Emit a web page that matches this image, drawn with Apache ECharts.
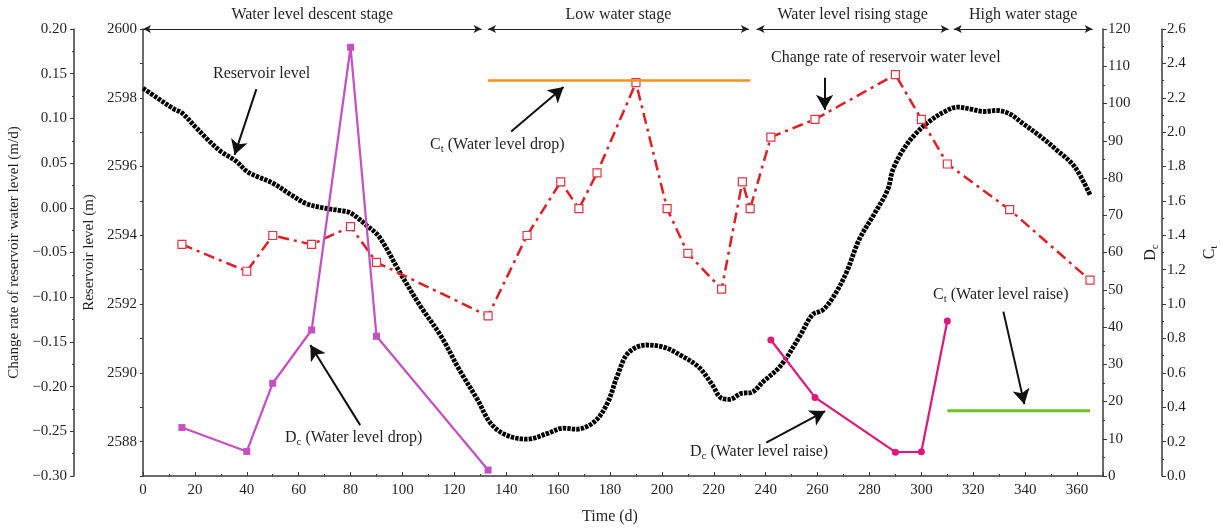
<!DOCTYPE html>
<html><head><meta charset="utf-8">
<script src="https://cdn.jsdelivr.net/npm/echarts@6/dist/echarts.min.js"></script>
<style>html,body{margin:0;padding:0;background:#fff;overflow:hidden}#c{width:1220px;height:529px}</style>
</head><body><div id="c"></div>
<script>
// Reservoir level (m)
const levelDays = [0,5,12,15,20,25,30,36,40,44,50,57,63,70,76,80,86,91,99,107,115,122,129,134,140,148,156,162,167,174,179,183,187,194,201,207,214,219,223,226,231,234,239,246,253,258,262,266,271,276,282,287,289,293,298,303,309,314,319,324,329,334,339,346,352,359,365];
const levelVals = [2598.28,2598.02,2597.67,2597.56,2597.17,2596.78,2596.44,2596.15,2595.86,2595.71,2595.52,2595.18,2594.92,2594.79,2594.72,2594.65,2594.30,2593.96,2592.92,2591.93,2591.05,2590.08,2589.21,2588.53,2588.19,2588.07,2588.24,2588.39,2588.36,2588.58,2589.12,2589.95,2590.58,2590.81,2590.74,2590.52,2590.18,2589.70,2589.26,2589.23,2589.41,2589.42,2589.74,2590.23,2591.05,2591.69,2591.83,2592.20,2592.90,2593.87,2594.64,2595.32,2595.90,2596.49,2596.97,2597.31,2597.60,2597.73,2597.67,2597.60,2597.63,2597.53,2597.26,2596.87,2596.49,2596.00,2595.18];
// Change rate of reservoir water level (m/d)
const rateDays = [15,40,50,65,80,90,133,148,161,168,175,190,202,210,223,231,234,242,259,290,300,310,334,365];
const rateVals = [-0.041,-0.071,-0.031,-0.041,-0.021,-0.061,-0.121,-0.031,0.029,-0.001,0.039,0.140,-0.001,-0.051,-0.091,0.029,-0.001,0.079,0.099,0.149,0.099,0.049,-0.002,-0.081];
// Dc (water level drop)
const dcDropDays = [15,40,50,65,80,90,133];
const dcDropVals = [13.0,6.6,24.9,39.2,115.1,37.5,1.6];
// Dc (water level raise)
const dcRaiseDays = [242,259,290,300,310];
const dcRaiseVals = [36.5,21.1,6.4,6.5,41.6];
// Ct lines
const ctDropDays = [133,234]; const ctDropVal = 2.3;
const ctRaiseDays = [310,365]; const ctRaiseVal = 0.38;
// Stages
const stageNames = ['Water level descent stage','Low water stage','Water level rising stage','High water stage'];
const stageStart = [0,133,236.5,312.5];
const stageEnd = [130.5,233.5,310.5,366];

const FONT = 'Liberation Serif';
const TXT = '#231f20';
const AX = '#3a3a3a';

const zip = (a,b)=>a.map((x,i)=>[x,b[i]]);

const chart = echarts.init(document.getElementById('c'));

function yAxisBase(o){
  return Object.assign({
    type:'value', splitLine:{show:false},
    axisLine:{show:true, onZero:false, lineStyle:{color:AX, width:1.5}},
    axisTick:{show:true, length:4, lineStyle:{color:AX}},
    minorTick:{show:true, splitNumber:2, length:2, lineStyle:{color:AX}},
    axisLabel:{fontFamily:FONT, fontSize:15, color:TXT, margin:5},
    nameLocation:'middle',
    nameTextStyle:{fontFamily:FONT, fontSize:15, color:TXT}
  }, o);
}

const stageLines = stageNames.map((n,i)=>([
  {coord:[stageStart[i],2600], name:n},
  {coord:[stageEnd[i],2600]}
]));

const arrowCoords = [
  [[43.7,2598.25],[35.3,2596.34]],
  [[83.7,2588.48],[64.5,2590.81]],
  [[141.9,2597.02],[162.1,2598.31]],
  [[262.7,2598.58],[262.7,2597.65]],
  [[331.6,2591.78],[339.7,2589.09]],
  [[240.2,2587.97],[262.9,2588.89]]
];

const subRich = {
  a:{fontFamily:FONT, fontSize:16, color:TXT, lineHeight:20},
  s:{fontFamily:FONT, fontSize:11, color:TXT, lineHeight:10, verticalAlign:'bottom', padding:[8,0,0,0]}
};
const nameRich = {
  a:{fontFamily:FONT, fontSize:16, color:TXT, lineHeight:20},
  s:{fontFamily:FONT, fontSize:11, color:TXT, lineHeight:10, verticalAlign:'bottom', padding:[8,0,0,0]}
};

function txt(left, top, text){
  return {type:'text', left:left, top:top, style:{text:text, rich:subRich, fill:TXT, font:'16px '+FONT}};
}

chart.setOption({
  animation:false,
  backgroundColor:'#fff',
  grid:{left:143, right:117, top:29, bottom:53, containLabel:false, outerBoundsMode:'none'},
  xAxis:{
    type:'value', min:0, max:370, interval:20,
    name:'Time (d)', nameLocation:'middle', nameGap:33,
    nameTextStyle:{fontFamily:FONT, fontSize:16, color:TXT, padding:[0,26,0,0]},
    splitLine:{show:false},
    axisLine:{onZero:false, lineStyle:{color:AX, width:1.5}},
    axisTick:{inside:true, length:4, lineStyle:{color:AX}},
    minorTick:{show:true, splitNumber:2, length:2, lineStyle:{color:AX}},
    axisLabel:{fontFamily:FONT, fontSize:15, color:TXT, margin:7, showMaxLabel:false}
  },
  yAxis:[
    yAxisBase({position:'left', offset:69, min:-0.30, max:0.20, interval:0.05,
      name:'Change rate of reservoir water level (m/d)', nameGap:46,
      axisLabel:{fontFamily:FONT, fontSize:15, color:TXT, margin:7,
        formatter:v=>{const s=Math.abs(v).toFixed(2); return v< -1e-9? '\u2212'+s : s;}}}),
    yAxisBase({position:'left', offset:0, min:2587, max:2600, interval:1,
      name:'Reservoir level (m)', nameGap:43,
      minorTick:{show:false},
      axisTick:{show:true, length:3, lineStyle:{color:AX}},
      axisLabel:{fontFamily:FONT, fontSize:15, color:TXT, margin:6,
        formatter:v=> (Math.round(v)%2===0 ? String(Math.round(v)) : '')}}),
    yAxisBase({position:'right', offset:0, min:0, max:120, interval:10,
      name:'{a|D}{s|c}', nameGap:32, nameRotate:90,
      nameTextStyle:{rich:nameRich}}),
    yAxisBase({position:'right', offset:59, min:0, max:2.6, interval:0.2,
      name:'{a|C}{s|t}', nameGap:38, nameRotate:90,
      nameTextStyle:{rich:nameRich},
      axisLabel:{fontFamily:FONT, fontSize:15, color:TXT, margin:5, formatter:v=>v.toFixed(1)}})
  ],
  series:[
    {
      name:'Reservoir level', type:'line', yAxisIndex:1, clip:false,
      data:zip(levelDays, levelVals), symbol:'none', smooth:0.35,
      lineStyle:{color:'#000', width:4.8, type:[3.4,1.1], cap:'butt'},
      z:3,
      markLine:{
        silent:true, symbol:['arrow','arrow'], symbolSize:[6,8],
        lineStyle:{color:'#222', width:1.2, type:'solid'},
        label:{show:true, position:'middle', distance:6, formatter:p=>p.name,
          fontFamily:FONT, fontSize:16, color:TXT},
        data:stageLines
      }
    },
    {
      name:'arrows', type:'line', yAxisIndex:1, data:[], clip:false,
      markLine:{
        silent:true, symbol:['none','arrow'], symbolSize:[13,15],
        lineStyle:{color:'#111', width:2, type:'solid'},
        label:{show:false},
        data:arrowCoords.map(c=>[{coord:c[0]},{coord:c[1]}])
      }
    },
    {
      name:'Change rate', type:'line', yAxisIndex:0, clip:false,
      data:zip(rateDays, rateVals),
      symbol:'rect', symbolSize:8, showSymbol:true,
      itemStyle:{color:'#fff', borderColor:'#e8333f', borderWidth:1.2},
      lineStyle:{color:'#e41d23', width:2.5, type:[11,5,3,5]},
      z:4
    },
    {
      name:'Dc drop', type:'line', yAxisIndex:2, clip:false,
      data:zip(dcDropDays, dcDropVals),
      symbol:'rect', symbolSize:7,
      itemStyle:{color:'#c64fc4'}, lineStyle:{color:'#c64fc4', width:2.2},
      z:5
    },
    {
      name:'Dc raise', type:'line', yAxisIndex:2, clip:false,
      data:zip(dcRaiseDays, dcRaiseVals),
      symbol:'circle', symbolSize:7,
      itemStyle:{color:'#e3177b'}, lineStyle:{color:'#e3177b', width:2.2},
      z:5
    },
    {
      name:'Ct drop', type:'line', yAxisIndex:3, clip:false,
      data:ctDropDays.map(d=>[d, ctDropVal]), symbol:'none',
      lineStyle:{color:'#f7901e', width:2.5}, z:5
    },
    {
      name:'Ct raise', type:'line', yAxisIndex:3, clip:false,
      data:ctRaiseDays.map(d=>[d, ctRaiseVal]), symbol:'none',
      lineStyle:{color:'#6cc324', width:3}, z:5
    }
  ],
  graphic:[
    txt(213, 66, '{a|Reservoir level}'),
    txt(285, 429, '{a|D}{s|c}{a| (Water level drop)}'),
    txt(430, 136, '{a|C}{s|t}{a| (Water level drop)}'),
    txt(771, 50, '{a|Change rate of reservoir water level}'),
    txt(933, 286, '{a|C}{s|t}{a| (Water level raise)}'),
    txt(690, 443, '{a|D}{s|c}{a| (Water level raise)}')
  ]
});
</script></body></html>
